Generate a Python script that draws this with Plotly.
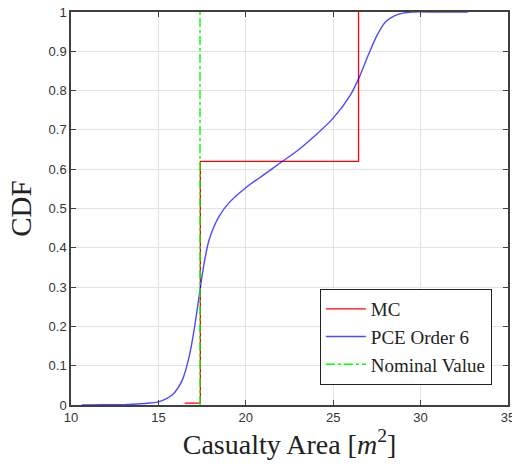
import plotly.graph_objects as go

# PCE Order 6 CDF
pce_x = [10.6, 12.0, 13.0, 14.0, 14.5, 15.0, 15.8, 16.37, 16.76, 17.04, 17.33, 17.62, 17.9,
         18.47, 19.05, 20.0, 21.0, 22.0, 23.0, 24.0, 25.0, 26.0, 26.5, 27.0, 27.5, 28.0,
         28.5, 29.0, 29.5, 31.0, 32.7]
pce_y = [0.0, 0.0005, 0.001, 0.003, 0.005, 0.008, 0.026, 0.064, 0.123, 0.19, 0.277, 0.362, 0.42,
         0.48, 0.515, 0.553, 0.585, 0.617, 0.649, 0.687, 0.73, 0.79, 0.835, 0.89, 0.94, 0.975,
         0.99, 0.997, 1.0, 1.0, 1.0]

# MC empirical CDF steps
mc_x = [16.5, 17.4, 26.45, 26.45]
mc_y = [0.005, 0.62, 1.0, 1.0]

# Nominal value
nominal_x = 17.38
nominal_y = [0.0, 1.0]

x_ticks = [10, 15, 20, 25, 30, 35]
y_ticks = [0, 0.1, 0.2, 0.3, 0.4, 0.5, 0.6, 0.7, 0.8, 0.9, 1]

fig = go.Figure()
fig.add_trace(go.Scatter(x=mc_x, y=mc_y, mode="lines", name="MC",
                         line=dict(color="#ff0000", width=1.3, shape="hv")))
fig.add_trace(go.Scatter(x=pce_x, y=pce_y, mode="lines", name="PCE Order 6",
                         line=dict(color="#0000ff", width=1.4, shape="spline", smoothing=0.8),
                         opacity=0.7))
fig.add_trace(go.Scatter(x=[nominal_x, nominal_x], y=nominal_y, mode="lines", name="Nominal Value",
                         line=dict(color="#00ff00", width=1.4, dash="dashdot")))

axis_common = dict(showgrid=True, gridcolor="#e3e3e3", gridwidth=1,
                   showline=True, linecolor="#404040", linewidth=1.5, mirror="ticks",
                   ticks="inside", ticklen=5, tickcolor="#404040",
                   tickfont=dict(family="Liberation Sans, Arial", size=13, color="#333333"),
                   zeroline=False, ticklabeloverflow="allow", automargin=False)

fig.update_xaxes(range=[10, 35], tickvals=x_ticks, **axis_common,
                 title=dict(text="Casualty Area [<i>m</i><sup>2</sup>]",
                            font=dict(family="Liberation Serif, Times New Roman", size=28, color="#222222"),
                            standoff=6))
fig.update_yaxes(range=[0, 1], tickvals=y_ticks, **axis_common,
                 title=dict(text="CDF",
                            font=dict(family="Liberation Serif, Times New Roman", size=29, color="#222222"),
                            standoff=8))

fig.update_layout(
    width=512, height=468,
    margin=dict(l=71, r=4, t=12, b=63, autoexpand=False),
    plot_bgcolor="white", paper_bgcolor="white",
    legend=dict(x=0.963, y=0.051, xanchor="right", yanchor="bottom",
                bgcolor="white", bordercolor="#222222", borderwidth=1,
                font=dict(family="Liberation Serif, Times New Roman", size=19, color="#222222"),
                tracegroupgap=0, itemwidth=40),
    showlegend=True,
)

fig.write_html("out.html")
